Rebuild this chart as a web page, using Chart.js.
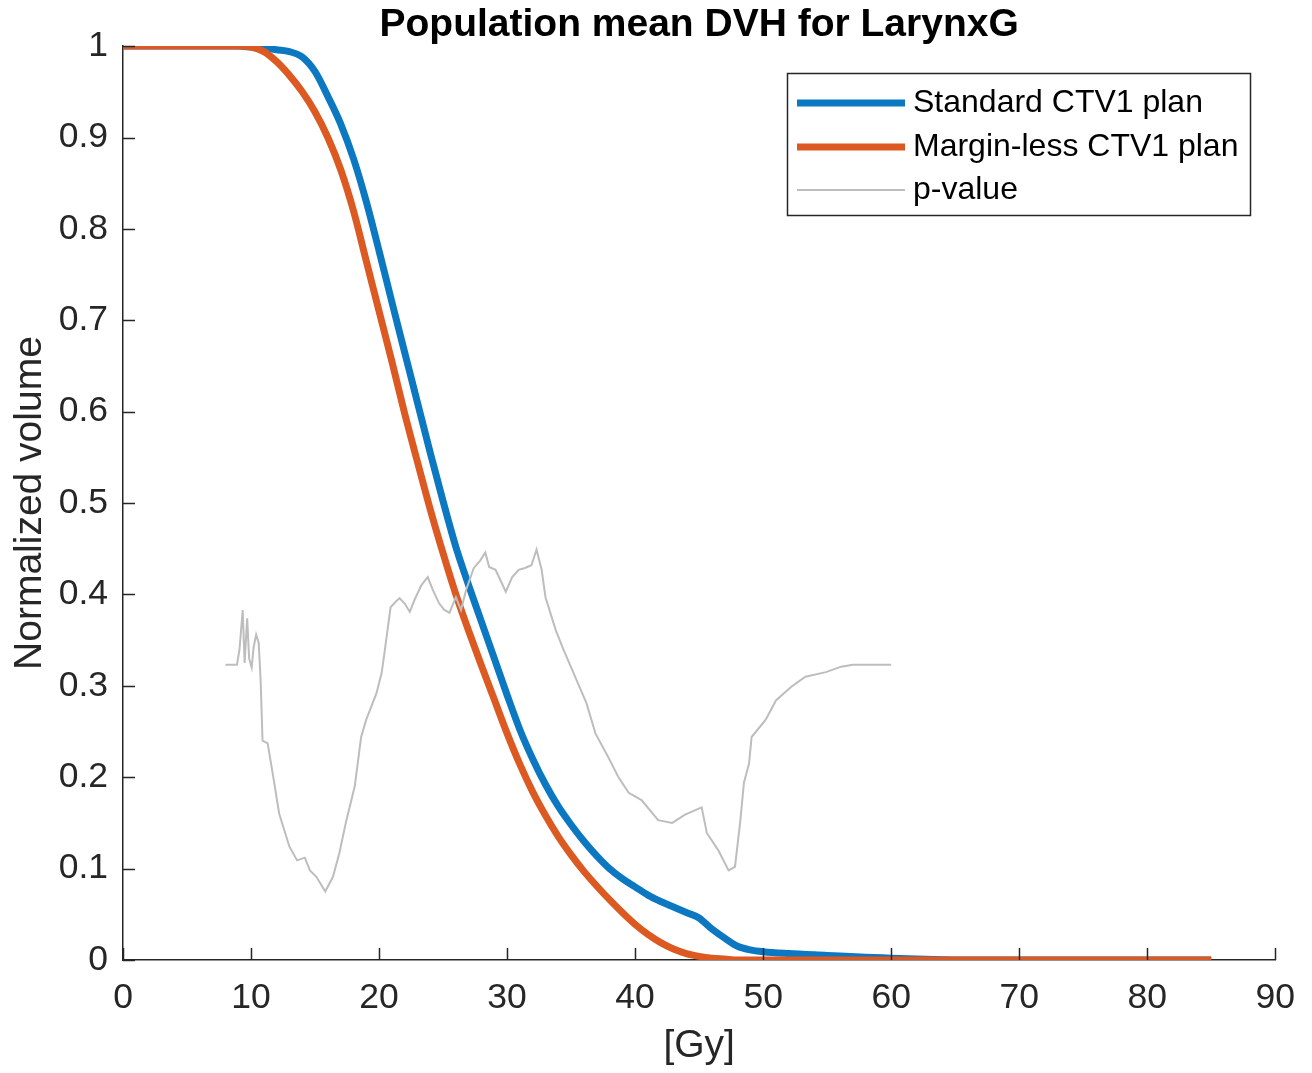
<!DOCTYPE html>
<html>
<head>
<meta charset="utf-8">
<script src="https://cdn.jsdelivr.net/npm/chart.js@4.4.0/dist/chart.umd.min.js"></script>
<style>
  body { margin: 0; background: #fff; }
  canvas { display: block; }
</style>
</head>
<body>
<canvas id="myChart" width="1312" height="1073"></canvas>
<script>
let doseStd = [0, 9, 10, 11, 12, 13, 14, 15, 16, 17, 18, 19, 20, 21, 22, 23, 24, 25, 26, 27, 28, 29, 30, 31, 32, 33, 34, 35, 36, 37, 38, 39, 40, 41, 42, 43, 44, 45, 45.5, 46, 47, 48, 49, 50, 52, 55, 58, 60, 62, 65, 85];
let volStd = [1, 1, 0.999, 0.998, 0.996, 0.994, 0.988, 0.972, 0.945, 0.915, 0.877, 0.83, 0.776, 0.72, 0.665, 0.61, 0.555, 0.502, 0.452, 0.41, 0.37, 0.33, 0.29, 0.252, 0.22, 0.192, 0.168, 0.148, 0.13, 0.114, 0.1, 0.089, 0.08, 0.071, 0.064, 0.058, 0.052, 0.046, 0.04, 0.034, 0.024, 0.015, 0.011, 0.009, 0.007, 0.005, 0.003, 0.002, 0.001, 0, 0];

let doseMl = [0, 9, 10, 11, 12, 13, 14, 15, 16, 17, 18, 19, 20, 21, 22, 23, 24, 25, 26, 27, 28, 29, 30, 31, 32, 33, 34, 35, 36, 37, 38, 39, 40, 41, 42, 43, 44, 45, 46, 47, 48, 85];
let volMl = [1, 1, 0.999, 0.994, 0.983, 0.968, 0.95, 0.928, 0.9, 0.865, 0.82, 0.765, 0.71, 0.655, 0.598, 0.545, 0.493, 0.445, 0.4, 0.36, 0.322, 0.285, 0.248, 0.214, 0.184, 0.158, 0.135, 0.115, 0.097, 0.081, 0.066, 0.052, 0.039, 0.028, 0.019, 0.012, 0.007, 0.004, 0.002, 0.001, 0, 0];

let doseP = [8, 8.9, 9.1, 9.35, 9.5, 9.7, 9.85, 10.05, 10.2, 10.4, 10.6, 10.75, 10.9, 11.3, 11.8, 12.2, 13.0, 13.6, 14.2, 14.6, 15.1, 15.8, 16.4, 16.9, 17.4, 18.1, 18.6, 19.0, 19.8, 20.2, 20.4, 20.9, 21.3, 21.6, 22.0, 22.4, 22.8, 23.3, 23.8, 24.2, 24.7, 25.1, 25.5, 26.0, 26.4, 26.8, 27.4, 27.9, 28.3, 28.6, 29.1, 29.5, 29.9, 30.4, 30.9, 31.4, 31.9, 32.3, 32.7, 33.0, 33.8, 34.4, 35.1, 36.2, 36.9, 37.9, 38.7, 39.5, 40.5, 41.8, 42.9, 43.9, 45.2, 45.6, 46.5, 47.3, 47.8, 48.2, 48.5, 48.9, 49.1, 50.2, 51.0, 52.2, 53.3, 54.9, 56.1, 57, 60];
let pValue = [0.323, 0.323, 0.34, 0.383, 0.325, 0.374, 0.33, 0.32, 0.342, 0.356, 0.347, 0.306, 0.24, 0.237, 0.195, 0.16, 0.124, 0.109, 0.112, 0.098, 0.091, 0.075, 0.091, 0.117, 0.15, 0.19, 0.244, 0.263, 0.292, 0.314, 0.334, 0.386, 0.392, 0.396, 0.39, 0.381, 0.395, 0.41, 0.419, 0.405, 0.39, 0.383, 0.38, 0.397, 0.383, 0.405, 0.429, 0.437, 0.446, 0.43, 0.427, 0.415, 0.403, 0.419, 0.427, 0.429, 0.432, 0.449, 0.427, 0.397, 0.361, 0.34, 0.317, 0.281, 0.248, 0.222, 0.2, 0.183, 0.175, 0.153, 0.15, 0.159, 0.167, 0.139, 0.12, 0.098, 0.102, 0.15, 0.194, 0.215, 0.244, 0.263, 0.284, 0.299, 0.31, 0.315, 0.321, 0.323, 0.323];

let seriesNames = ['Standard CTV1 plan', 'Margin-less CTV1 plan', 'p-value'];
let xTicks = [0, 10, 20, 30, 40, 50, 60, 70, 80, 90];
let yTicks = [0, 0.1, 0.2, 0.3, 0.4, 0.5, 0.6, 0.7, 0.8, 0.9, 1];

const FONT = "'Liberation Sans', Arial, Helvetica, sans-serif";
const AXIS_COLOR = '#262626';

function pairs(xs, ys) {
    return xs.map(function (x, i) { return {x: x, y: ys[i]}; });
}

// MATLAB style ticks pointing into the plot
let innerTicks = {
    id: 'innerTicks',
    afterDraw: function (chart) {
        let ctx = chart.ctx;
        let area = chart.chartArea;
        let xs = chart.scales.x, ys = chart.scales.y;
        ctx.save();
        ctx.strokeStyle = AXIS_COLOR;
        ctx.lineWidth = 1.5;
        ctx.beginPath();
        xs.ticks.forEach(function (t) {
            let px = Math.round(xs.getPixelForValue(t.value)) + 0.5;
            ctx.moveTo(px, area.bottom);
            ctx.lineTo(px, area.bottom - 12);
        });
        ys.ticks.forEach(function (t) {
            let py = Math.round(ys.getPixelForValue(t.value)) + 0.5;
            ctx.moveTo(area.left, py);
            ctx.lineTo(area.left + 12, py);
        });
        ctx.stroke();
        ctx.restore();
    }
};

let boxLegend = {
    id: 'boxLegend',
    afterDraw: function (chart) {
        let ctx = chart.ctx;
        let bx = 787, by = 73, bw = 463, bh = 142;
        ctx.save();
        ctx.fillStyle = '#fff';
        ctx.fillRect(bx, by, bw, bh);
        ctx.strokeStyle = AXIS_COLOR;
        ctx.lineWidth = 1.5;
        ctx.strokeRect(bx + 0.5, by + 0.5, bw, bh);
        let rows = [103, 147, 190];
        [0, 1, 2].forEach(function (i, k) {
            let ds = chart.data.datasets[i];
            ctx.strokeStyle = ds.borderColor;
            ctx.lineWidth = ds.borderWidth;
            ctx.beginPath();
            ctx.moveTo(797, rows[k]);
            ctx.lineTo(905, rows[k]);
            ctx.stroke();
            ctx.fillStyle = '#000';
            ctx.font = '32px ' + FONT;
            ctx.textBaseline = 'middle';
            ctx.textAlign = 'left';
            ctx.fillText(ds.label, 913, rows[k]);
        });
        ctx.restore();
    }
};

let ctx = document.getElementById('myChart').getContext('2d');
let myChart = new Chart(ctx, {
    type: 'line',
    data: {
        datasets: [{
            label: seriesNames[0],
            data: pairs(doseStd, volStd),
            borderColor: '#0d78c2',
            borderWidth: 7,
            pointRadius: 0,
            cubicInterpolationMode: 'monotone',
            order: 3
        }, {
            label: seriesNames[1],
            data: pairs(doseMl, volMl),
            borderColor: '#dc5a22',
            borderWidth: 7,
            pointRadius: 0,
            cubicInterpolationMode: 'monotone',
            order: 2
        }, {
            label: seriesNames[2],
            data: pairs(doseP, pValue),
            borderColor: '#bdbdbd',
            borderWidth: 2,
            pointRadius: 0,
            tension: 0,
            order: 1
        }]
    },
    options: {
        responsive: false,
        animation: false,
        events: [],
        layout: { padding: { left: 0, right: 34, top: 0, bottom: 0 } },
        plugins: {
            legend: { display: false },
            tooltip: { enabled: false },
            title: {
                display: true,
                fullSize: false,
                text: 'Population mean DVH for LarynxG',
                color: '#000',
                font: { family: FONT, size: 39, weight: 'bold', lineHeight: 1.08 },
                padding: { top: 4, bottom: 0 }
            }
        },
        scales: {
            x: {
                type: 'linear',
                min: 0,
                max: 90,
                afterBuildTicks: function (s) { s.ticks = xTicks.map(function (v) { return {value: v}; }); },
                afterFit: function (s) { s.height = 113; },
                grid: { display: false, drawTicks: false },
                border: { display: true, color: AXIS_COLOR, width: 1.5 },
                ticks: {
                    color: AXIS_COLOR,
                    padding: 17,
                    maxRotation: 0,
                    font: { family: FONT, size: 35.5 }
                },
                title: {
                    display: true,
                    text: '[Gy]',
                    color: AXIS_COLOR,
                    padding: { top: 0, bottom: 3 },
                    font: { family: FONT, size: 39 }
                }
            },
            y: {
                type: 'linear',
                min: 0,
                max: 1,
                afterBuildTicks: function (s) { s.ticks = yTicks.map(function (v) { return {value: v}; }); },
                afterFit: function (s) { s.width = 123; },
                grid: { display: false, drawTicks: false },
                border: { display: true, color: AXIS_COLOR, width: 1.5 },
                ticks: {
                    color: AXIS_COLOR,
                    padding: 15,
                    font: { family: FONT, size: 35.5 },
                    callback: function (v) { return String(Math.round(v * 10) / 10); }
                },
                title: {
                    display: true,
                    text: 'Normalized volume',
                    color: AXIS_COLOR,
                    padding: { top: 7, bottom: 0 },
                    font: { family: FONT, size: 39 }
                }
            }
        }
    },
    plugins: [innerTicks, boxLegend]
});
</script>
</body>
</html>
